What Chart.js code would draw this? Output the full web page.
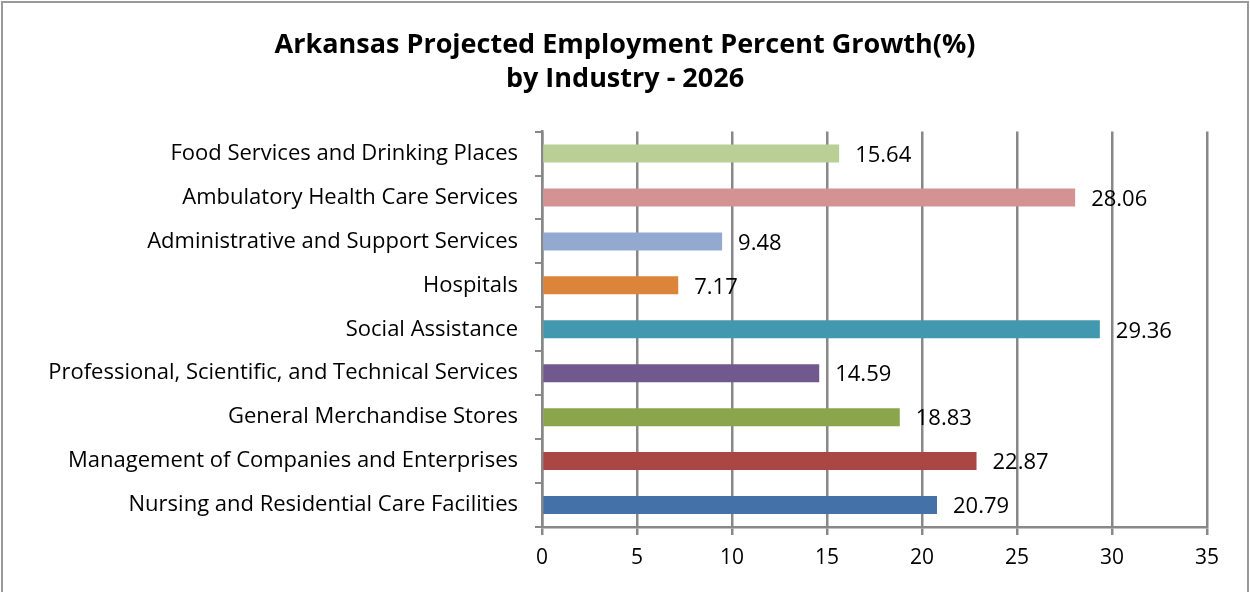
<!DOCTYPE html>
<html>
<head>
<meta charset="utf-8">
<script src="https://cdn.jsdelivr.net/npm/chart.js@4"></script>
<style>
  html, body { margin: 0; padding: 0; background: #fff; }
  #wrap { position: relative; width: 1250px; height: 592px; }
</style>
</head>
<body>
<div id="wrap"><canvas id="chart" width="1250" height="592"></canvas></div>
<script>
// Data (top to bottom)
const industries = [
  "Food Services and Drinking Places",
  "Ambulatory Health Care Services",
  "Administrative and Support Services",
  "Hospitals",
  "Social Assistance",
  "Professional, Scientific, and Technical Services",
  "General Merchandise Stores",
  "Management of Companies and Enterprises",
  "Nursing and Residential Care Facilities",
];
const growth = [15.64, 28.06, 9.48, 7.17, 29.36, 14.59, 18.83, 22.87, 20.79];
const barColors = [
  "#B9CF96", "#D49393", "#93A9D0", "#DD843B", "#4298AF",
  "#71598F", "#8BA54D", "#AA4643", "#4471A8",
];
const xTicks = [0, 5, 10, 15, 20, 25, 30, 35];

const FONT = "'Open Sans', 'Liberation Sans', sans-serif";

// Frame round the chart, open at the bottom
const framePlugin = {
  id: "frame",
  beforeDraw(chart) {
    const ctx = chart.ctx;
    ctx.save();
    ctx.strokeStyle = "#9a9a9a";
    ctx.lineWidth = 2;
    ctx.beginPath();
    ctx.moveTo(2, 592);
    ctx.lineTo(2, 2);
    ctx.lineTo(1248, 2);
    ctx.lineTo(1248, 592);
    ctx.stroke();
    ctx.restore();
  },
};

// Value labels to the right of each bar
const valueLabels = {
  id: "valueLabels",
  afterDatasetsDraw(chart) {
    const ctx = chart.ctx;
    const meta = chart.getDatasetMeta(0);
    ctx.save();
    ctx.fillStyle = "#000";
    ctx.font = "22px " + FONT;
    ctx.textAlign = "left";
    ctx.textBaseline = "middle";
    meta.data.forEach((bar, i) => {
      ctx.fillText(growth[i].toFixed(2), bar.x + 16, bar.y + 2);
    });
    ctx.restore();
  },
};

new Chart(document.getElementById("chart"), {
  type: "bar",
  data: {
    labels: industries,
    datasets: [
      {
        data: growth,
        backgroundColor: barColors,
        borderWidth: 0,
        barPercentage: 0.82,
        categoryPercentage: 0.5,
      },
    ],
  },
  options: {
    indexAxis: "y",
    responsive: false,
    animation: false,
    // equal side padding keeps the title centred on the page
    layout: { padding: { left: 43, right: 43, top: 0, bottom: 0 } },
    plugins: {
      legend: { display: false },
      tooltip: { enabled: false },
      title: {
        display: true,
        text: ["Arkansas Projected Employment Percent Growth(%)", "by Industry - 2026"],
        color: "#000",
        font: { family: FONT, size: 27, weight: "bold", lineHeight: 1.27 },
        padding: { top: 28, bottom: 35 },
      },
    },
    scales: {
      x: {
        min: 0,
        max: 35,
        afterBuildTicks(scale) {
          scale.ticks = xTicks.map((v) => ({ value: v }));
        },
        afterFit(scale) {
          scale.height = 65;
        },
        grid: {
          color: "#888",
          lineWidth: 2.5,
          tickLength: 8,
          drawTicks: true,
        },
        border: { color: "#888", width: 2.5 },
        ticks: {
          color: "#000",
          font: { family: FONT, size: 21 },
          padding: 10,
        },
      },
      y: {
        afterFit(scale) {
          scale.width = 499;
        },
        grid: {
          offset: true,
          drawOnChartArea: false,
          color: "#888",
          lineWidth: 2,
          tickLength: 7,
        },
        border: { color: "#888", width: 2.5 },
        ticks: {
          color: "#000",
          font: { family: FONT, size: 22 },
          padding: 17,
        },
      },
    },
  },
  plugins: [framePlugin, valueLabels],
});
</script>
</body>
</html>
